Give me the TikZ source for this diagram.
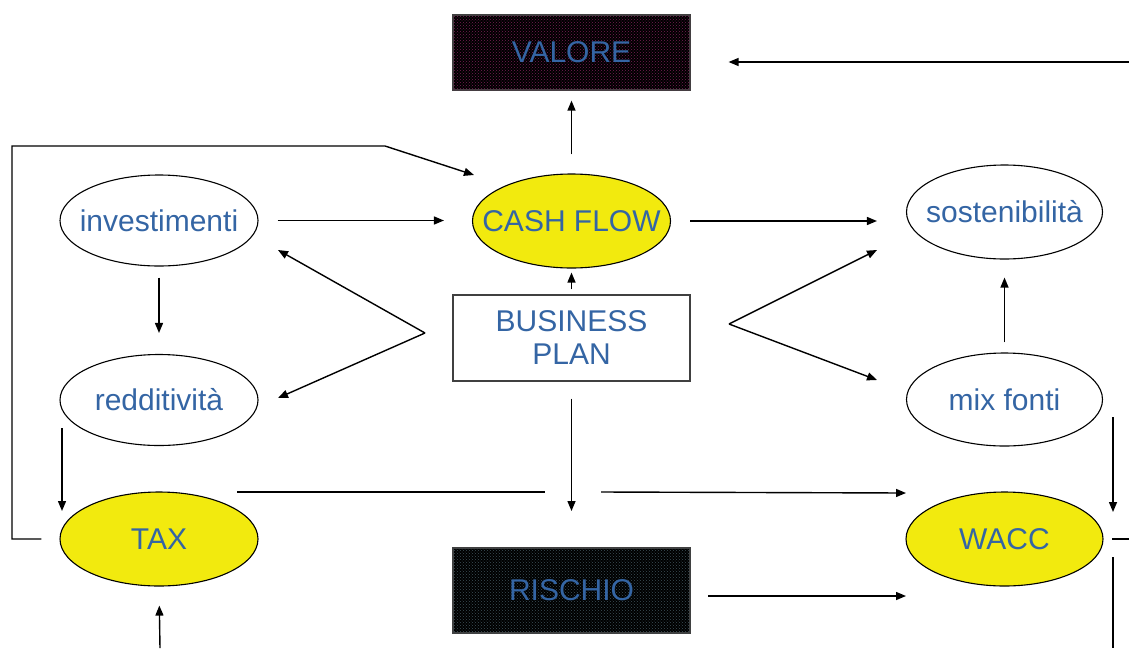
\documentclass[tikz,border=0pt]{standalone}
\usepackage{fontspec}
\setmainfont{Liberation Sans}
\usetikzlibrary{shapes.geometric,arrows.meta,patterns}
\definecolor{txt}{RGB}{52,101,164}
\definecolor{yel}{RGB}{242,234,14}
\definecolor{valdot}{RGB}{120,30,85}
\definecolor{risdot}{RGB}{60,80,88}
\newcommand{\zw}[1]{\makebox[0pt]{#1}}
\begin{document}
\begin{tikzpicture}[x=1pt,y=-1pt,
  every node/.style={font=\fontsize{30}{35}\selectfont, text=txt},
  ell/.style={ellipse, draw=black, line width=1.1pt, minimum width=198pt, minimum height=93pt, inner sep=0pt},
  yell/.style={ell, fill=yel},
  boxn/.style={rectangle, draw=black!75, line width=1.2pt, minimum width=237pt, inner sep=0pt, align=center},
  conn/.style={line width=1.4pt, draw=black},
  arr/.style={conn, -{Triangle[length=10pt,width=8pt]}},
]
\useasboundingbox (0,0) rectangle (1129,648);
% boxes
\node[boxn, minimum height=75pt, fill=black, postaction={pattern=crosshatch dots, pattern color=valdot}] (val) at (571.5,52.5) {VALORE};
\node[boxn, minimum height=86pt, fill=white] (bp) at (571.5,338) {BUSINESS\\[-2pt]PLAN};
\node[boxn, minimum height=85pt, fill=black, postaction={pattern=crosshatch dots, pattern color=risdot}] (ris) at (571.5,590.5) {RISCHIO};
% ellipses
\node[ell, minimum height=91pt] (inv) at (159,220.5) {\zw{investimenti}};
\node[yell, minimum height=94pt] (cf) at (571.5,221) {\zw{CASH FLOW}};
\node[ell, minimum width=196pt, minimum height=94pt] (sost) at (1004.5,212) {\zw{sostenibilità}};
\node[ell, minimum height=91pt] (red) at (159,400) {\zw{redditività}};
\node[ell, minimum width=196pt] (mix) at (1004.5,399.5) {\zw{mix fonti}};
\node[yell, minimum height=94pt] (tax) at (159,539) {\zw{TAX}};
\node[yell, minimum width=197pt, minimum height=94pt] (wacc) at (1004.5,539) {\zw{WACC}};
% coordinates
\coordinate (rin) at (1129,62);
\coordinate (l1) at (12,539);
\coordinate (l2) at (12,146);
\coordinate (l3) at (385,146);
\coordinate (l4) at (474,175);
\coordinate (bl) at (425,333);
\coordinate (bl1) at (278,250);
\coordinate (bl2) at (278,398);
\coordinate (br) at (729,324);
\coordinate (br1) at (877,250);
\coordinate (br2) at (877,380);
\coordinate (rt1) at (62,428);
\coordinate (rt2) at (62,511);
\coordinate (mw1) at (1113,417);
\coordinate (mw2) at (1113,512);
\coordinate (bpd) at (571.5,511);
\coordinate (tw1) at (237,492);
\coordinate (tw2) at (545,492);
\coordinate (tw3) at (601,492);
\coordinate (tw4) at (906,493);
\coordinate (rw1) at (708,596);
\coordinate (rw2) at (906,596);
\coordinate (we1) at (1112,539);
\coordinate (we2) at (1129,539);
\coordinate (wd1) at (1113,557);
\coordinate (wd2) at (1113,648);
\coordinate (tb) at (160,648);
% connectors
\draw[arr, shorten <=19pt, shorten >=10pt] (cf.north) -- (val.south);
\draw[arr, shorten >=38pt] (rin) -- (val.east |- rin);
\draw[arr] ([xshift=-18pt]tax.west) -- (l1) -- (l2) -- (l3) -- (l4);
\draw[arr, shorten <=19pt, shorten >=28pt] (inv.east) -- (inv.east -| cf.west);
\draw[arr, shorten <=19pt, shorten >=29pt] (cf.east) -- (cf.east -| sost.west);
\draw[arr, shorten <=5pt, shorten >=4pt] (bp.north) -- (cf.south);
\draw[arr] (bl) -- (bl1);
\draw[arr] (bl) -- (bl2);
\draw[arr] (br) -- (br1);
\draw[arr] (br) -- (br2);
\draw[arr, shorten <=11pt, shorten >=21pt] (inv.south) -- (red.north);
\draw[arr, shorten <=10pt, shorten >=18pt] (mix.north) -- (sost.south);
\draw[arr] (rt1) -- (rt2);
\draw[arr] (mw1) -- (mw2);
\draw[arr, shorten <=17pt] (bp.south) -- (bpd);
\draw[conn] (tw1) -- (tw2);
\draw[arr] (tw3) -- (tw4);
\draw[arr] (rw1) -- (rw2);
\draw[conn] (we1) -- (we2);
\draw[conn] (wd1) -- (wd2);
\draw[arr, shorten >=19pt] (tb) -- (tax.south);
\end{tikzpicture}
\end{document}
